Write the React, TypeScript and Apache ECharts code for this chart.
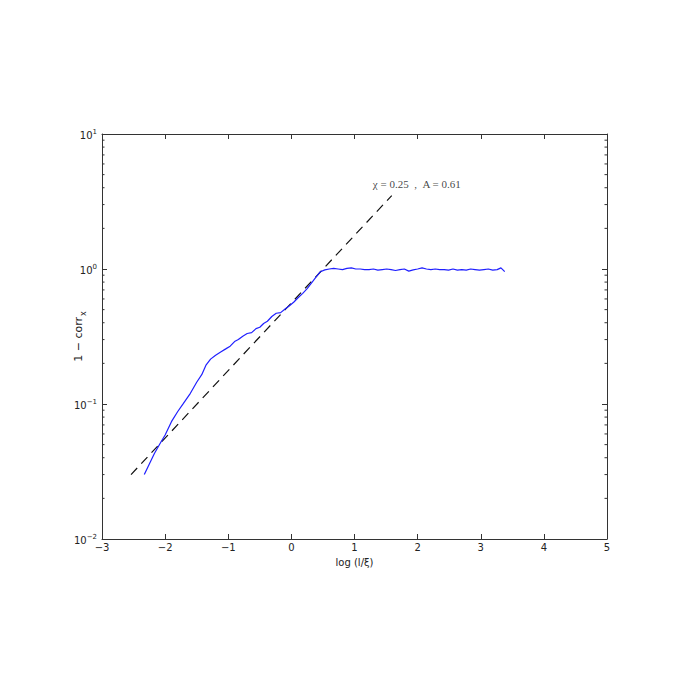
import React, { useEffect, useRef } from "react";
import * as echarts from "echarts";

// x: log(l/ξ), y: 1 - corr_x
const logXi = [
  -2.33, -2.25, -2.17, -2.08, -2.0, -1.9, -1.8, -1.71, -1.6, -1.5, -1.42, -1.35, -1.28, -1.2, -1.12,
  -1.04, -0.97, -0.9, -0.84, -0.77, -0.7, -0.63, -0.56, -0.5, -0.44, -0.38, -0.31, -0.24, -0.17, -0.1,
  -0.03, 0.04, 0.11, 0.18, 0.25, 0.32, 0.39, 0.46, 0.53,
  0.6, 0.67, 0.74, 0.81, 0.88, 0.95, 1.02, 1.09, 1.16, 1.23, 1.3, 1.37, 1.44, 1.51, 1.58, 1.65, 1.72,
  1.79, 1.86, 1.93, 2.0, 2.07, 2.14, 2.21, 2.28, 2.35, 2.42, 2.49, 2.56, 2.63, 2.7, 2.77, 2.84, 2.91,
  2.98, 3.05, 3.12, 3.19, 3.26, 3.32, 3.38,
];
const oneMinusCorr = [
  0.03, 0.036, 0.043, 0.051, 0.059, 0.074, 0.088, 0.101, 0.12, 0.145, 0.165, 0.195, 0.215, 0.23, 0.243,
  0.256, 0.268, 0.29, 0.3, 0.318, 0.333, 0.338, 0.362, 0.37, 0.395, 0.41, 0.445, 0.47, 0.475, 0.505,
  0.535, 0.57, 0.615, 0.66, 0.715, 0.79, 0.87, 0.955, 0.985,
  1.0, 1.01, 1.0, 0.99, 1.01, 1.02, 1.0, 1.0, 0.99, 0.99, 1.0, 0.98, 0.99, 1.0, 0.99, 0.975, 0.99,
  1.0, 0.965, 0.985, 1.0, 1.02, 1.0, 0.99, 1.0, 0.99, 0.99, 0.98, 1.0, 0.98, 0.99, 0.98, 1.0,
  0.99, 0.98, 0.99, 1.0, 0.98, 0.99, 1.02, 0.955,
];

// Power-law fit (dashed line)
const fitX = [-2.54, 1.59];
const fitY = [0.03, 3.5];

// Annotation
const annotationText = "χ = 0.25  ,  A = 0.61";
const annotationPos = [1.29, 4.26];

// Axes
const xMin = -3;
const xMax = 5;
const yMin = 0.01;
const yMax = 10;
const minorTickValues: number[] = [];
[0.01, 0.1, 1].forEach((d) => {
  for (let k = 2; k <= 9; k++) minorTickValues.push(+(d * k).toPrecision(3));
});

const MINUS = "\u2212";
const fmtNum = (v: number) => (v < 0 ? MINUS + Math.abs(v) : String(v));

export default function App() {
  const ref = useRef<HTMLDivElement>(null);
  useEffect(() => {
    document.body.style.margin = "0";
    if (!ref.current) return;
    const chart = echarts.init(ref.current, undefined, { renderer: "svg" });
    const axisColor = "#333";
    const labelFont = "DejaVu Sans";
    const option: any = {
      animation: false,
      backgroundColor: "#fff",
      grid: { left: 102, right: 83, top: 134, bottom: 144, containLabel: false },
      xAxis: [
        {
          type: "value",
          min: xMin,
          max: xMax,
          interval: 1,
          position: "bottom",
          name: "log (l/ξ)",
          nameLocation: "middle",
          nameGap: 18,
          nameMoveOverlap: false,
          nameTextStyle: { fontFamily: labelFont, fontSize: 10, color: "#222" },
          axisLine: { show: true, onZero: false, lineStyle: { color: axisColor, width: 1 } },
          axisTick: { show: true, inside: true, length: 5, lineStyle: { color: axisColor } },
          axisLabel: { formatter: fmtNum, fontFamily: labelFont, fontSize: 10, color: "#222", margin: 3 },
          splitLine: { show: false },
        },
        {
          type: "value",
          min: xMin,
          max: xMax,
          interval: 1,
          position: "top",
          axisLine: { show: true, onZero: false, lineStyle: { color: axisColor, width: 1 } },
          axisTick: { show: true, inside: true, length: 5, lineStyle: { color: axisColor } },
          axisLabel: { show: false },
          splitLine: { show: false },
        },
      ],
      yAxis: [
        {
          type: "log",
          logBase: 10,
          min: yMin,
          max: yMax,
          position: "left",
          name: "1 − corr{sub|x}",
          nameLocation: "middle",
          nameGap: 18,
          nameMoveOverlap: false,
          nameRotate: 90,
          nameTextStyle: {
            fontFamily: labelFont,
            fontSize: 11,
            color: "#222",
            rich: {
              sub: { fontFamily: labelFont, fontSize: 8, verticalAlign: "bottom", lineHeight: 8, padding: [0, 0, -3, 1] },
            },
          },
          axisLine: { show: true, onZero: false, lineStyle: { color: axisColor, width: 1 } },
          axisTick: { show: true, inside: true, length: 5, lineStyle: { color: axisColor } },
          axisLabel: {
            margin: 5,
            formatter: (v: number) => {
              const e = Math.round(Math.log10(v));
              return "{b|10}{sup|" + fmtNum(e) + "}";
            },
            rich: {
              b: { fontFamily: labelFont, fontSize: 10, color: "#222", lineHeight: 12, verticalAlign: "bottom" },
              sup: { fontFamily: labelFont, fontSize: 7, color: "#222", lineHeight: 7, verticalAlign: "top" },
            },
          },
          splitLine: { show: false },
          minorTick: { show: false },
        },
        {
          type: "log",
          logBase: 10,
          min: yMin,
          max: yMax,
          position: "right",
          axisLine: { show: true, onZero: false, lineStyle: { color: axisColor, width: 1 } },
          axisTick: { show: true, inside: true, length: 5, lineStyle: { color: axisColor } },
          axisLabel: { show: false },
          splitLine: { show: false },
        },
      ],
      series: [
        {
          type: "line",
          name: "data",
          data: logXi.map((x, i) => [x, oneMinusCorr[i]]),
          showSymbol: false,
          symbol: "none",
          lineStyle: { color: "#1f1fff", width: 1.2 },
          z: 3,
        },
        {
          type: "line",
          name: "fit",
          data: fitX.map((x, i) => [x, fitY[i]]),
          showSymbol: false,
          symbol: "none",
          lineStyle: { color: "#111", width: 1.2, type: [9, 6] },
          z: 2,
        },
        {
          type: "scatter",
          data: [annotationPos],
          symbolSize: 0,
          silent: true,
          label: {
            show: true,
            position: "right",
            distance: 0,
            formatter: annotationText,
            fontFamily: "Liberation Serif",
            fontSize: 11,
            color: "#111",
          },
        },
        {
          type: "custom",
          silent: true,
          data: minorTickValues.map((v) => [xMin, v]),
          renderItem: (params: any, api: any) => {
            const cs = params.coordSys;
            const y = api.coord([xMin, api.value(1)])[1];
            const style = { stroke: axisColor, lineWidth: 1 };
            return {
              type: "group",
              children: [
                { type: "line", shape: { x1: cs.x, y1: y, x2: cs.x + 2.5, y2: y }, style },
                { type: "line", shape: { x1: cs.x + cs.width - 2.5, y1: y, x2: cs.x + cs.width, y2: y }, style },
              ],
            };
          },
          z: 4,
        },
      ],
    };
    chart.setOption(option);
    return () => chart.dispose();
  }, []);
  return <div ref={ref} style={{ width: 690, height: 683 }} />;
}
